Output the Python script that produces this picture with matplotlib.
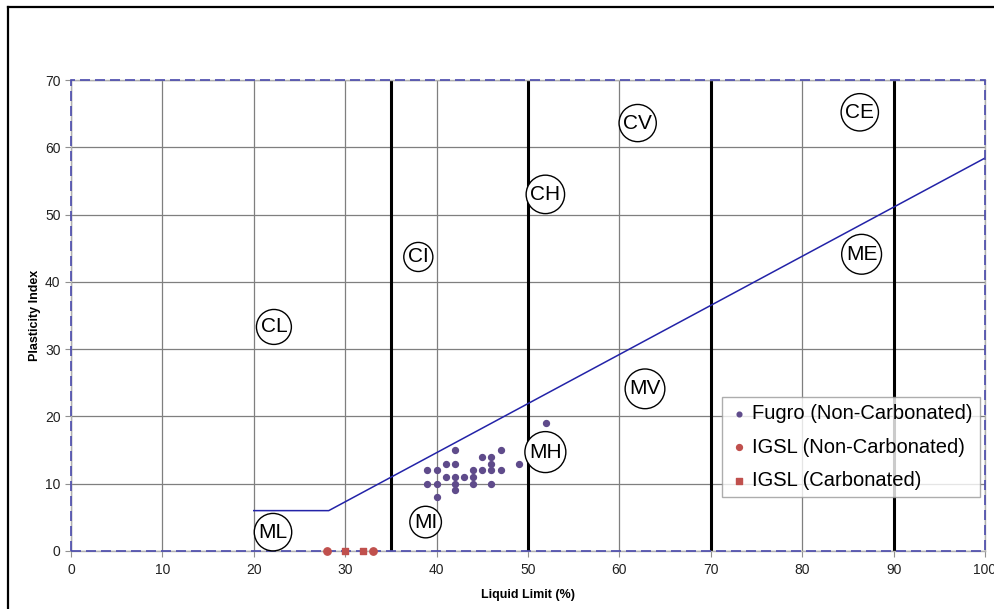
import matplotlib
matplotlib.use('Agg')
import matplotlib.pyplot as plt
from matplotlib.patches import Rectangle
from matplotlib.lines import Line2D

plt.rcParams['font.family'] = ['Liberation Sans', 'DejaVu Sans']

# Fugro test results (liquid limit %, plasticity index)
fugro_ll = [42, 47, 52, 45, 46, 41, 42, 46, 49, 39, 40, 44, 45, 46, 47,
            41, 42, 43, 44, 39, 40, 42, 44, 46, 42, 40]
fugro_pi = [15, 15, 19, 14, 14, 13, 13, 13, 13, 12, 12, 12, 12, 12, 12,
            11, 11, 11, 11, 10, 10, 10, 10, 10, 9, 8]

# IGSL results
igsl_nc_ll = [28, 33]
igsl_nc_pi = [0, 0]
igsl_c_ll = [30, 32]
igsl_c_pi = [0, 0]

# plasticity zone boundaries
zone_bounds = [35, 50, 70, 90]
aline_ll = [20, 28.2, 100]
aline_pi = [6, 6, 0.73 * (100 - 20)]

zone_names = ['CL', 'ML', 'CI', 'MI', 'CH', 'MH', 'CV', 'MV', 'CE', 'ME']
zone_x = [22.2, 22.1, 38.0, 38.8, 51.9, 51.9, 62.0, 62.8, 86.3, 86.5]
zone_y = [33.3, 2.8, 43.7, 4.3, 53.0, 14.7, 63.6, 24.1, 65.2, 44.1]

fig = plt.figure(figsize=(9.95, 6.09), dpi=100)
ax = fig.add_axes([71 / 995, 1 - 551 / 609, 914 / 995, 471 / 609])

ax.set_xlim(0, 100)
ax.set_ylim(0, 70)
ax.set_xticks(range(0, 101, 10))
ax.set_yticks(range(0, 71, 10))
ax.grid(True, color='#7f7f7f', linewidth=0.9)
ax.set_axisbelow(True)
ax.tick_params(axis='both', labelsize=10, color='#909090', length=4,
               labelcolor='#222222')
ax.tick_params(axis='x', pad=5)

for sp in ax.spines.values():
    sp.set_color('#b0b0b0')
    sp.set_linewidth(1.0)
ax.add_patch(Rectangle((0, 0), 1, 1, transform=ax.transAxes, fill=False,
                       edgecolor='#4a4aad', linewidth=1.2,
                       linestyle=(0, (6, 3)), clip_on=False, zorder=5))

for b in zone_bounds:
    ax.axvline(b, color='black', linewidth=2.2, zorder=2)

ax.plot(aline_ll, aline_pi, color='#2323a8', linewidth=1.1, zorder=3)

ax.scatter(fugro_ll, fugro_pi, s=18, color='#5f4b8b', zorder=4,
           label='Fugro (Non-Carbonated)')
ax.scatter(igsl_nc_ll, igsl_nc_pi, s=28, color='#c0504d', marker='o',
           zorder=6, clip_on=False, label='IGSL (Non-Carbonated)')
ax.scatter(igsl_c_ll, igsl_c_pi, s=24, color='#c0504d', marker='s',
           zorder=6, clip_on=False, label='IGSL (Carbonated)')

for name, x, y in zip(zone_names, zone_x, zone_y):
    ax.text(x, y, name, fontsize=15, ha='center', va='center', zorder=7,
            bbox=dict(boxstyle='circle,pad=0.2', facecolor='white',
                      edgecolor='black', linewidth=1.0))

ax.set_xlabel('Liquid Limit (%)', fontsize=9, fontweight='bold', labelpad=8)
ax.set_ylabel('Plasticity Index', fontsize=9, fontweight='bold', labelpad=3)

leg = ax.legend(loc='upper left', bbox_to_anchor=(0.712, 0.327),
                fontsize=14.5, frameon=True, fancybox=False, borderpad=0.35,
                handletextpad=0.15, handlelength=1.0, labelspacing=0.72,
                borderaxespad=0, markerscale=0.8)
leg.get_frame().set_edgecolor('#999999')
leg.get_frame().set_linewidth(1.0)
leg.set_zorder(8)

# outer chart border
fig.add_artist(Line2D([8 / 995, 8 / 995], [0, 1 - 7 / 609], color='black',
                      linewidth=1.6))
fig.add_artist(Line2D([8 / 995, 1], [1 - 7 / 609, 1 - 7 / 609],
                      color='black', linewidth=1.6))

fig.savefig('out.png', dpi=100)
